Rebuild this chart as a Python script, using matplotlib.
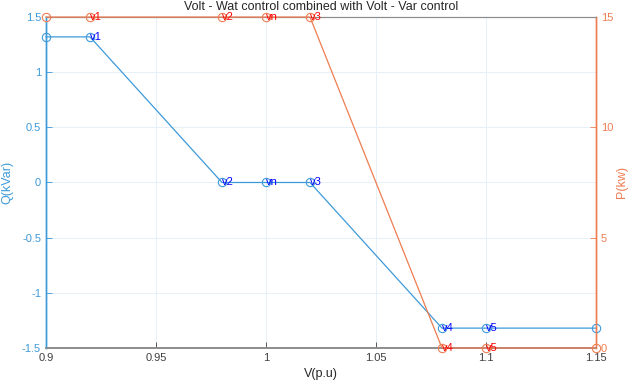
import numpy as np
import matplotlib.pyplot as plt

# data
v_pts = [0.9, 0.92, 0.98, 1.0, 1.02, 1.08, 1.1, 1.15]
q_vals = [1.32, 1.32, 0, 0, 0, -1.32, -1.32, -1.32]
p_vals = [15, 15, 15, 15, 15, 0, 0, 0]
pt_labels = ['', 'v1', 'v2', 'vn', 'v3', 'v4', 'v5', '']

x_ticks = [0.9, 0.95, 1.0, 1.05, 1.1, 1.15]
x_ticklabels = ['0.9', '0.95', '1', '1.05', '1.1', '1.15']
q_ticks = [-1.5, -1, -0.5, 0, 0.5, 1, 1.5]
q_ticklabels = ['-1.5', '-1', '-0.5', '0', '0.5', '1', '1.5']
p_ticks = [0, 5, 10, 15]

blue = '#3d9ad9'
orange = '#ee7d52'
grid_c = '#e6f0f8'
axis_grey = '#8c8c8c'

plt.rcParams['font.family'] = 'Liberation Sans'

fig = plt.figure(figsize=(6.29, 3.84), dpi=100)
ax = fig.add_axes([0.0731, 0.0938, 0.8744, 0.8619])
ax2 = ax.twinx()

ax.plot(v_pts, q_vals, color=blue, linewidth=0.9, marker='o', markersize=6,
        markerfacecolor='none', markeredgewidth=0.8, clip_on=False, zorder=3)
ax2.plot(v_pts, p_vals, color=orange, linewidth=0.9, marker='o', markersize=6,
         markerfacecolor='none', markeredgewidth=0.8, clip_on=False, zorder=3)

for xv, yv, lab in zip(v_pts, q_vals, pt_labels):
    if lab:
        ax.text(xv, yv, lab, color='blue', fontsize=8, ha='left', va='center')
for xv, yv, lab in zip(v_pts, p_vals, pt_labels):
    if lab:
        ax2.text(xv, yv, lab, color='red', fontsize=8, ha='left', va='center')

ax.set_xlim(0.9, 1.15)
ax.set_ylim(-1.5, 1.5)
ax2.set_ylim(0, 15)

ax.set_xticks(x_ticks)
ax.set_xticklabels(x_ticklabels)
ax.set_yticks(q_ticks)
ax.set_yticklabels(q_ticklabels)
ax2.set_yticks(p_ticks)

ax.grid(True, color=grid_c, linewidth=0.7)
ax.set_axisbelow(True)

ax.tick_params(axis='x', colors='#404040', labelsize=8, direction='in', length=4, width=0.6)
ax.tick_params(axis='y', colors=blue, labelsize=8, direction='in', length=4, width=0.6)
ax2.tick_params(axis='y', colors=orange, labelsize=8, direction='in', length=4, width=0.6)

for a in (ax, ax2):
    a.spines['top'].set_color(axis_grey)
    a.spines['bottom'].set_color(axis_grey)
    a.spines['top'].set_linewidth(0.8)
    a.spines['bottom'].set_linewidth(1.2)
    a.spines['left'].set_color(blue)
    a.spines['right'].set_color(orange)
    a.spines['left'].set_linewidth(1.0)
    a.spines['right'].set_linewidth(1.0)

ax.set_xlabel('V(p.u)', fontsize=9, color='#262626', labelpad=4)
ax.set_ylabel('Q(kVar)', fontsize=9, color=blue, labelpad=6)
ax2.set_ylabel('P(kw)', fontsize=9, color=orange, labelpad=2)
ax.set_title('Volt - Wat control combined with Volt - Var control',
             fontsize=9, color='#262626', pad=5)

fig.savefig('out.png', dpi=100)
